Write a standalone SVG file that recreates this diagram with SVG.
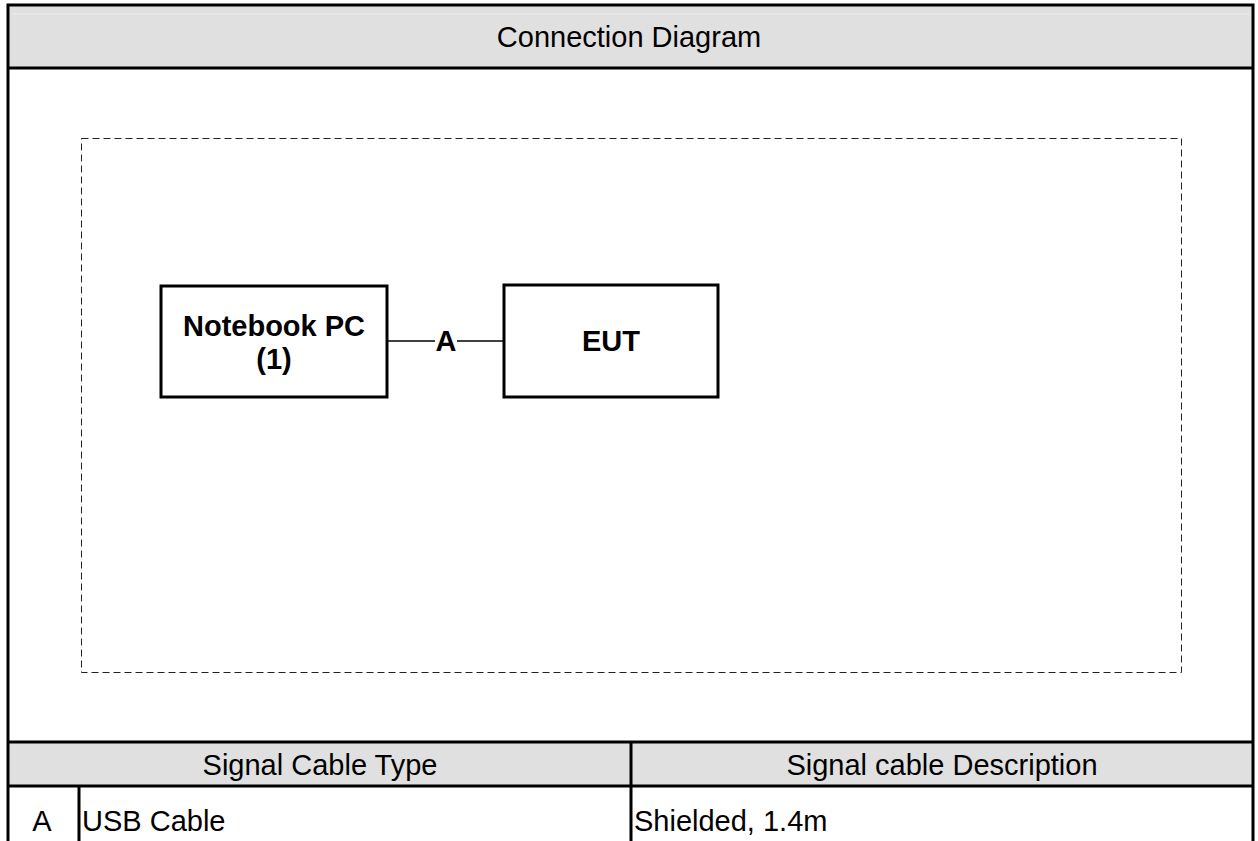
<svg xmlns="http://www.w3.org/2000/svg" width="1258" height="841" viewBox="0 0 1258 841">
<style>
.t{font-family:"Liberation Sans",Arial,sans-serif;fill:#000;font-size:29px}
.b{font-weight:bold}
.box{fill:#fff;stroke:#000;stroke-width:3}
.ln{stroke:#000;stroke-width:3;fill:none}
</style>
<rect x="0" y="0" width="1258" height="841" fill="#fff"/>
<g id="frame">
<rect x="8" y="5" width="1245" height="63" fill="#e0e0e0"/>
<line x1="12" y1="14" x2="1250" y2="14" stroke="#ececec" stroke-width="1"/>
<rect x="8" y="742" width="1245" height="44" fill="#e0e0e0"/>
<path class="ln" d="M8,841 V5 H1253 V841"/>
<line class="ln" x1="8" y1="68" x2="1253" y2="68"/>
<line class="ln" x1="8" y1="742" x2="1253" y2="742"/>
<line class="ln" x1="8" y1="786" x2="1253" y2="786"/>
<line class="ln" x1="631" y1="742" x2="631" y2="841"/>
<line class="ln" x1="79" y1="786" x2="79" y2="841"/>
<text class="t" x="629" y="47" text-anchor="middle">Connection Diagram</text>
<text class="t" x="320" y="775" text-anchor="middle">Signal Cable Type</text>
<text class="t" x="942" y="775" text-anchor="middle">Signal cable Description</text>
<text class="t" x="42" y="831" text-anchor="middle">A</text>
<text class="t" x="82" y="831">USB Cable</text>
<text class="t" x="634" y="831">Shielded, 1.4m</text>
</g>
<rect id="boundary" x="81.5" y="138.5" width="1100" height="534" fill="none" stroke="#222" stroke-width="1" stroke-dasharray="7,4"/>
<g id="connectors">
<line x1="387" y1="341" x2="435" y2="341" stroke="#000" stroke-width="1.5"/>
<line x1="457" y1="341" x2="504" y2="341" stroke="#000" stroke-width="1.5"/>
<text class="t b" x="446" y="351" text-anchor="middle">A</text>
</g>
<g id="notebook">
<rect class="box" x="161" y="286" width="226" height="111"/>
<text class="t b" x="274" y="336" text-anchor="middle">Notebook PC</text>
<text class="t b" x="274" y="369" text-anchor="middle">(1)</text>
</g>
<g id="eut">
<rect class="box" x="504" y="285" width="214" height="112"/>
<text class="t b" x="611" y="351" text-anchor="middle">EUT</text>
</g>
</svg>
